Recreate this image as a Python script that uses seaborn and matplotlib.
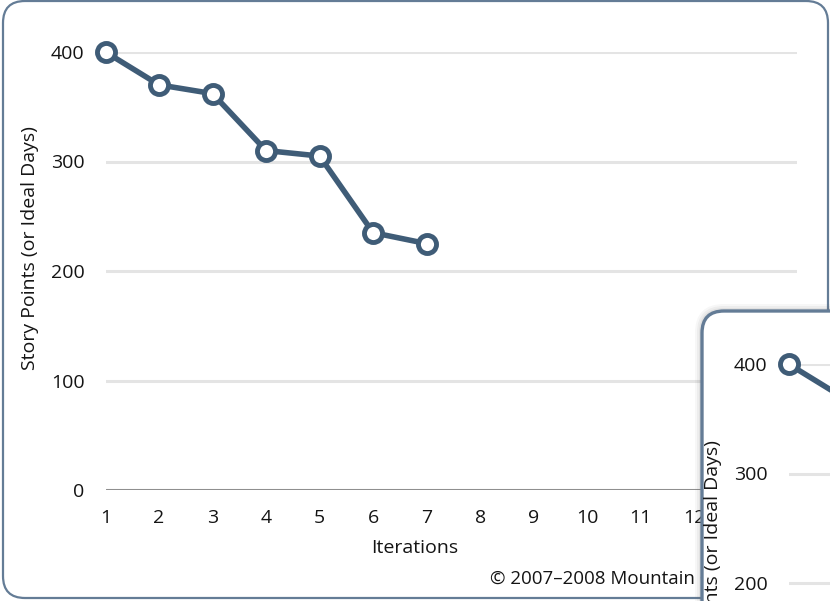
import matplotlib
matplotlib.use("Agg")
import matplotlib.pyplot as plt
from matplotlib.patches import FancyBboxPatch
from matplotlib.transforms import IdentityTransform
import seaborn as sns
import pandas as pd

# ---- data ----
iterations = [1, 2, 3, 4, 5, 6, 7]
story_points = [400, 370, 362, 310, 305, 235, 225]
x_ticks = [1, 2, 3, 4, 5, 6, 7, 8, 9, 10, 11, 12, 13]
y_ticks = [0, 100, 200, 300, 400]
x_label = "Iterations"
y_label = "Story Points (or Ideal Days)"
copyright_text = "\u00a9 2007\u20132008 Mountain Goat Software"

df = pd.DataFrame({"Iteration": iterations, "Points": story_points})

sns.set_theme(style="white")
plt.rcParams["font.family"] = ["Open Sans", "DejaVu Sans"]
plt.rcParams["font.weight"] = "medium"

W, H = 830, 601
fig = plt.figure(figsize=(W / 100, H / 100), dpi=100)
fig.patch.set_facecolor("white")

LINE = "#3f5c77"
BORDER = "#647c96"
TXT = "#141414"


def px_rect(x0, y_top, x1, y_bot):
    """pixel (top-origin) -> figure fractions [l, b, w, h]"""
    return [x0 / W, 1 - y_bot / H, (x1 - x0) / W, (y_bot - y_top) / H]


def draw_chart(ax):
    ax.set_facecolor("none")
    sns.lineplot(data=df, x="Iteration", y="Points", ax=ax, color=LINE,
                 linewidth=4, marker="o", markersize=13,
                 markerfacecolor="white", markeredgecolor=LINE,
                 markeredgewidth=3.5, clip_on=False, zorder=5)
    ax.set_xlim(1, 13.92)
    ax.set_ylim(0, 400)
    ax.set_xticks(x_ticks)
    ax.set_yticks(y_ticks)
    ax.set_xticklabels([str(t) for t in x_ticks], fontweight="medium")
    ax.set_yticklabels([str(t) for t in y_ticks], fontweight="medium")
    ax.tick_params(axis="both", length=0, labelsize=14, colors=TXT)
    ax.tick_params(axis="x", pad=14)
    ax.tick_params(axis="y", pad=15)
    for t in y_ticks:
        if t == 0:
            ax.axhline(t, color="#8f8f8f", linewidth=2.2, zorder=2)
        else:
            ax.axhline(t, color="#e4e4e4", linewidth=2.2, zorder=1)
    for s in ax.spines.values():
        s.set_visible(False)
    ax.set_xlabel("")
    ax.set_ylabel("")


# main panel
main_panel = FancyBboxPatch((3, 3), 825, 597,
                            boxstyle="round,pad=0,rounding_size=22",
                            transform=IdentityTransform(), facecolor="white",
                            edgecolor=BORDER, linewidth=1.6, zorder=0)
fig.patches.append(main_panel)

ax = fig.add_axes(px_rect(105.5, 52, 797, 490))
ax.set_zorder(1)
draw_chart(ax)

fig.text(415 / W, 1 - 548 / H, x_label, ha="center", va="center",
         fontsize=14, color=TXT, zorder=1, fontweight="medium")
fig.text(30 / W, 1 - 248 / H, y_label, ha="center", va="center",
         rotation=90, fontsize=14, color=TXT, zorder=1, fontweight="medium")
fig.text(490 / W, 1 - 584 / H, copyright_text, ha="left", va="baseline",
         fontsize=13.5, color=TXT, zorder=1.5, fontweight="medium")

# second (overlapping) panel with shadow
for i, a in enumerate([0.05, 0.07, 0.09]):
    g = 7 - 2 * i
    sh = FancyBboxPatch((702 - g, -400), 900, 400 + (H - 311) + g,
                        boxstyle="round,pad=0,rounding_size=%d" % (22 + g),
                        transform=IdentityTransform(), facecolor="#6a6a6a",
                        edgecolor="none", alpha=a, zorder=2)
    fig.patches.append(sh)
panel2 = FancyBboxPatch((702, -400), 900, 400 + (H - 311),
                        boxstyle="round,pad=0,rounding_size=22",
                        transform=IdentityTransform(), facecolor="white",
                        edgecolor=BORDER, linewidth=2.4, zorder=2.5)
fig.patches.append(panel2)

dx, dy = 683, 312
ax2 = fig.add_axes(px_rect(105.5 + dx, 52 + dy, 797 + dx, 490 + dy))
ax2.set_zorder(3)
draw_chart(ax2)
fig.text((30 + dx) / W, 1 - (250 + dy) / H, y_label, ha="center",
         va="center", rotation=90, fontsize=14, color=TXT, zorder=4,
         fontweight="medium")

fig.savefig("out.png", dpi=100)
